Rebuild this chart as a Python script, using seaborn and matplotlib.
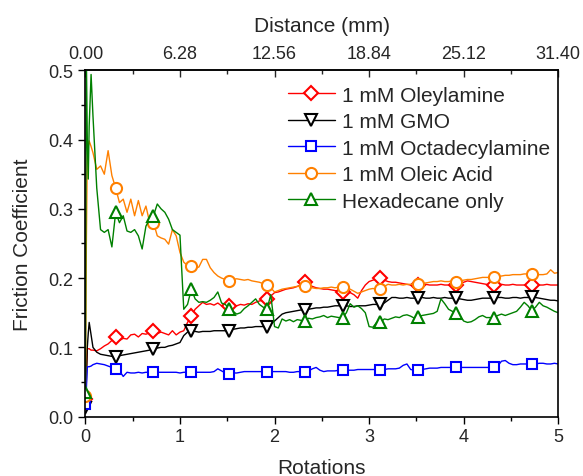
import numpy as np
import matplotlib
matplotlib.use('Agg')
import matplotlib.pyplot as plt
import seaborn as sns
from matplotlib.ticker import MultipleLocator, FormatStrFormatter

# rotations: a few early samples, then every 0.04 rotation
rotations = np.concatenate([[0, 0.01, 0.02, 0.03, 0.04, 0.06],
                            np.round(np.arange(0.08, 5.0001, 0.04), 2)])

oleylamine = [0.025, 0.06, 0.098, 0.098, 0.098, 0.096,
              0.096, 0.095, 0.098, 0.102, 0.105, 0.11, 0.115, 0.11, 0.113, 0.112,
              0.118, 0.119, 0.115, 0.12, 0.119, 0.121, 0.123, 0.12, 0.122, 0.12,
              0.118, 0.124, 0.118, 0.122, 0.124, 0.136, 0.145, 0.155, 0.16, 0.165,
              0.162, 0.163, 0.161, 0.164, 0.16, 0.162, 0.16, 0.161, 0.16, 0.162,
              0.161, 0.163, 0.162, 0.165, 0.167, 0.168, 0.17, 0.174, 0.179, 0.18,
              0.182, 0.184, 0.185, 0.186, 0.188, 0.19, 0.194, 0.19, 0.188, 0.186,
              0.185, 0.184, 0.184, 0.183, 0.182, 0.181, 0.18, 0.18, 0.179, 0.176,
              0.171, 0.182, 0.19, 0.195, 0.197, 0.199, 0.2, 0.197, 0.195, 0.194,
              0.194, 0.193, 0.192, 0.191, 0.19, 0.19, 0.19, 0.19, 0.191, 0.19,
              0.19, 0.19, 0.191, 0.19, 0.19, 0.19, 0.19, 0.191, 0.194, 0.196,
              0.195, 0.194, 0.193, 0.192, 0.191, 0.19, 0.19, 0.19, 0.191, 0.19,
              0.19, 0.191, 0.19, 0.19, 0.19, 0.19, 0.19, 0.191, 0.19, 0.19,
              0.191, 0.19, 0.19, 0.19]

gmo = [0.012, 0.05, 0.10, 0.12, 0.136, 0.118,
       0.10, 0.093, 0.09, 0.089, 0.088, 0.087, 0.086, 0.088, 0.089, 0.09,
       0.091, 0.092, 0.093, 0.094, 0.095, 0.096, 0.097, 0.099, 0.10, 0.10,
       0.102, 0.103, 0.105, 0.107, 0.117, 0.122, 0.124, 0.123, 0.122, 0.123,
       0.123, 0.123, 0.124, 0.124, 0.124, 0.124, 0.124, 0.126, 0.127, 0.128,
       0.128, 0.129, 0.129, 0.13, 0.13, 0.13, 0.13, 0.134, 0.138, 0.143,
       0.148, 0.15, 0.151, 0.152, 0.153, 0.154, 0.154, 0.155, 0.156, 0.157,
       0.157, 0.158, 0.158, 0.159, 0.16, 0.16, 0.16, 0.16, 0.159, 0.159,
       0.16, 0.16, 0.16, 0.161, 0.162, 0.162, 0.162, 0.164, 0.168, 0.172,
       0.172, 0.171, 0.171, 0.172, 0.171, 0.171, 0.171, 0.172, 0.171, 0.171,
       0.172, 0.171, 0.171, 0.172, 0.171, 0.171, 0.171, 0.17, 0.169, 0.168,
       0.168, 0.169, 0.17, 0.171, 0.171, 0.171, 0.171, 0.172, 0.172, 0.171,
       0.171, 0.172, 0.172, 0.171, 0.172, 0.172, 0.172, 0.172, 0.171, 0.17,
       0.169, 0.168, 0.168, 0.167]

octadecylamine = [0.018, 0.04, 0.072, 0.072, 0.072, 0.073,
                  0.075, 0.077, 0.076, 0.075, 0.073, 0.071, 0.069, 0.066, 0.058, 0.064,
                  0.063, 0.063, 0.064, 0.063, 0.064, 0.064, 0.064, 0.064, 0.064, 0.064,
                  0.064, 0.064, 0.064, 0.063, 0.064, 0.064, 0.064, 0.064, 0.064, 0.064,
                  0.064, 0.064, 0.065, 0.069, 0.066, 0.063, 0.062, 0.063, 0.063, 0.064,
                  0.065, 0.065, 0.065, 0.065, 0.065, 0.065, 0.065, 0.065, 0.065, 0.065,
                  0.065, 0.065, 0.064, 0.064, 0.065, 0.065, 0.065, 0.066, 0.069, 0.071,
                  0.067, 0.065, 0.066, 0.066, 0.066, 0.067, 0.067, 0.067, 0.067, 0.067,
                  0.068, 0.068, 0.068, 0.068, 0.068, 0.068, 0.068, 0.068, 0.069, 0.069,
                  0.069, 0.07, 0.074, 0.076, 0.068, 0.067, 0.067, 0.068, 0.069, 0.07,
                  0.07, 0.07, 0.071, 0.071, 0.071, 0.071, 0.071, 0.071, 0.071, 0.071,
                  0.071, 0.071, 0.071, 0.071, 0.071, 0.071, 0.071, 0.073, 0.08, 0.081,
                  0.077, 0.075, 0.075, 0.076, 0.076, 0.076, 0.076, 0.076, 0.077, 0.077,
                  0.076, 0.076, 0.077, 0.076]

oleic_acid = [0.03, 0.25, 0.38, 0.39, 0.398, 0.39,
              0.381, 0.357, 0.362, 0.35, 0.384, 0.348, 0.33, 0.309, 0.314, 0.295,
              0.314, 0.29, 0.312, 0.29, 0.304, 0.28, 0.28, 0.261, 0.258, 0.256,
              0.249, 0.27, 0.261, 0.237, 0.223, 0.218, 0.218, 0.214, 0.216, 0.227,
              0.227, 0.215, 0.208, 0.203, 0.20, 0.198, 0.196, 0.198, 0.199, 0.198,
              0.197, 0.198, 0.196, 0.195, 0.194, 0.192, 0.19, 0.186, 0.18, 0.182,
              0.184, 0.185, 0.186, 0.187, 0.188, 0.188, 0.188, 0.187, 0.186, 0.185,
              0.185, 0.186, 0.186, 0.187, 0.186, 0.187, 0.187, 0.186, 0.184, 0.181,
              0.178, 0.18, 0.182, 0.184, 0.185, 0.184, 0.184, 0.188, 0.191, 0.19,
              0.19, 0.191, 0.19, 0.191, 0.191, 0.191, 0.191, 0.192, 0.193, 0.194,
              0.195, 0.195, 0.196, 0.195, 0.195, 0.196, 0.195, 0.196, 0.197, 0.198,
              0.198, 0.199, 0.20, 0.201, 0.201, 0.201, 0.201, 0.202, 0.203, 0.204,
              0.204, 0.205, 0.205, 0.205, 0.206, 0.206, 0.206, 0.205, 0.205, 0.205,
              0.206, 0.212, 0.207, 0.208]

hexadecane = [0.035, 0.52, 0.40, 0.343, 0.42, 0.494,
              0.434, 0.33, 0.27, 0.266, 0.27, 0.245, 0.295, 0.28, 0.29, 0.268,
              0.266, 0.27, 0.261, 0.242, 0.275, 0.285, 0.29, 0.307, 0.30, 0.295,
              0.285, 0.27, 0.266, 0.262, 0.155, 0.162, 0.184, 0.17, 0.165, 0.166,
              0.165, 0.168, 0.172, 0.18, 0.164, 0.162, 0.155, 0.152, 0.148, 0.15,
              0.156, 0.16, 0.165, 0.17, 0.162, 0.158, 0.155, 0.176, 0.13, 0.128,
              0.141, 0.138, 0.14, 0.137, 0.14, 0.139, 0.138, 0.142, 0.141, 0.143,
              0.144, 0.146, 0.143, 0.145, 0.144, 0.143, 0.143, 0.15, 0.163, 0.158,
              0.16, 0.156, 0.15, 0.13, 0.129, 0.136, 0.136, 0.141, 0.14, 0.142,
              0.144, 0.143, 0.146, 0.147, 0.145, 0.142, 0.144, 0.146, 0.147, 0.148,
              0.149, 0.152, 0.17, 0.163, 0.155, 0.152, 0.15, 0.145, 0.138, 0.136,
              0.137, 0.14, 0.144, 0.146, 0.143, 0.143, 0.143, 0.146, 0.148, 0.146,
              0.148, 0.15, 0.152, 0.158, 0.165, 0.16, 0.153, 0.158, 0.165, 0.16,
              0.158, 0.155, 0.152, 0.15]

labels = ['1 mM Oleylamine', '1 mM GMO', '1 mM Octadecylamine',
          '1 mM Oleic Acid', 'Hexadecane only']
series = [oleylamine, gmo, octadecylamine, oleic_acid, hexadecane]
colors = ['#FF0000', '#000000', '#0000FF', '#FF8000', '#008000']
markers = ['D', 'v', 's', 'o', '^']
msizes = [7, 8, 6.5, 8, 8]

sns.set_style('ticks')
plt.rcParams['font.family'] = ['Liberation Sans', 'DejaVu Sans']

fig = plt.figure(figsize=(5.83, 4.77), dpi=100)
ax = fig.add_axes([0.1465, 0.1245, 0.811, 0.726])

mark_idx = [0] + list(range(12, len(rotations), 10))

for vals, lab, col, mk, ms in zip(series, labels, colors, markers, msizes):
    sns.lineplot(x=rotations, y=vals, ax=ax, color=col, label=lab,
                 marker=mk, markevery=mark_idx, markersize=ms,
                 markerfacecolor='white', markeredgecolor=col, markeredgewidth=1.5,
                 linewidth=1.0, estimator=None, sort=False)

ax.set_xlim(0, 5)
ax.set_ylim(0, 0.5)
ax.xaxis.set_major_locator(MultipleLocator(1))
ax.xaxis.set_minor_locator(MultipleLocator(0.5))
ax.yaxis.set_major_locator(MultipleLocator(0.1))
ax.yaxis.set_minor_locator(MultipleLocator(0.05))
ax.yaxis.set_major_formatter(FormatStrFormatter('%.1f'))
ax.tick_params(which='major', direction='out', length=5, width=1, labelsize=13, color='black')
ax.tick_params(which='minor', direction='out', length=3, width=1, color='black')
for sp in ax.spines.values():
    sp.set_linewidth(1.2)
    sp.set_color('black')

ax.set_xlabel('Rotations', fontsize=15, labelpad=9)
ax.set_ylabel('Friction Coefficient', fontsize=15, labelpad=12)

top = ax.secondary_xaxis('top', functions=(lambda r: r * 6.28, lambda d: d / 6.28))
top.set_xticks([0, 6.28, 12.56, 18.84, 25.12, 31.40])
top.xaxis.set_major_formatter(FormatStrFormatter('%.2f'))
top.xaxis.set_minor_locator(MultipleLocator(3.14))
top.tick_params(which='major', direction='in', length=5, width=1, labelsize=13, pad=6)
top.tick_params(which='minor', direction='in', length=3, width=1)
top.spines['top'].set_linewidth(1.2)
top.set_xlabel('Distance (mm)', fontsize=15, labelpad=10)

ax.legend(loc='upper left', bbox_to_anchor=(0.428, 0.956), frameon=False,
          fontsize=15, handlelength=2.25, handletextpad=0.35, labelspacing=0.36,
          borderpad=0, borderaxespad=0)

fig.savefig('out.png', dpi=100)
